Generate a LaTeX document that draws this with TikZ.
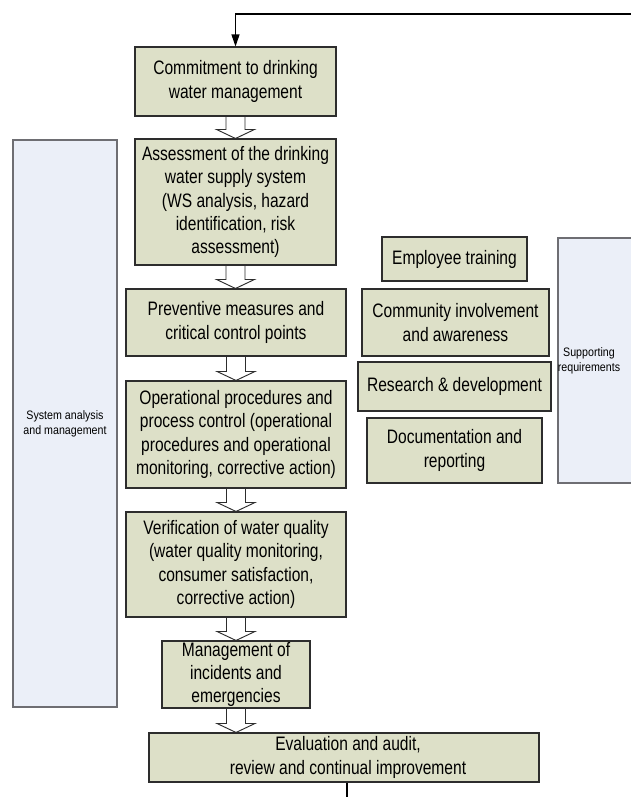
\documentclass[tikz,border=0pt]{standalone}
\usepackage{fontspec}
\setmainfont{Liberation Sans}[FakeStretch=0.8]
\newfontfamily\panelfont{Liberation Sans}[FakeStretch=0.87]
\usetikzlibrary{arrows.meta,calc,backgrounds}

\definecolor{boxfill}{RGB}{221,224,200}
\definecolor{boxline}{RGB}{45,45,45}
\definecolor{panelfill}{RGB}{235,239,248}
\definecolor{panelline}{RGB}{110,110,115}

\tikzset{
  x=0.75pt, y=-0.75pt,
  sz/.style 2 args={minimum width=#1*0.75pt, minimum height=#2*0.75pt},
  stage/.style={draw=boxline, line width=0.8pt, fill=boxfill, inner sep=0pt,
    align=center, font=\fontsize{14.6}{17.5}\selectfont},
  panel/.style={draw=panelline, line width=0.9pt, fill=panelfill, inner sep=0pt,
    align=center, font=\panelfont\fontsize{9.2}{11.3}\selectfont},
  paneltext/.style={align=center, inner sep=0pt, font=\panelfont\fontsize{9.2}{11.3}\selectfont},
  blockarrow/.style={draw=boxline, line width=0.7pt, fill=white, line join=miter},
  feedback/.style={draw=black, line width=0.8pt},
}

% hollow block arrow from the bottom of #1 down to the top of #2
\newcommand\stagearrow[2]{%
  \draw[blockarrow]
    ($(#1.south)+(-9.5,0.4)$) -- ($(#2.north -| #1.south)+(-9.5,-9)$)
    -- ($(#2.north -| #1.south)+(-19,-9)$) -- (#2.north -| #1.south)
    -- ($(#2.north -| #1.south)+(19,-9)$) -- ($(#2.north -| #1.south)+(9.5,-9)$)
    -- ($(#1.south)+(9.5,0.4)$);}

\begin{document}
\begin{tikzpicture}
\useasboundingbox (0,0) rectangle (631,797);

% side panels
\node[panel, sz={104}{567}] (sysan) at (65,423.5) {System analysis\\and management};
\node[panel, sz={100}{245}] (suppanel) at (608,360.5) {};
\node[paneltext] (suptext) at (589,361) {Supporting\\requirements};

% main sequence of stages
\node[stage, sz={201}{69}]  (commit) at (235.5,81.5) {Commitment to drinking\\water management};
\node[stage, sz={201}{126}] (assess) at (235.5,202) {Assessment of the drinking\\water supply system\\(WS analysis, hazard\\identification, risk\\assessment)};
\node[stage, sz={220}{67}]  (prevent) at (236,322.5) {Preventive measures and\\critical control points};
\node[stage, sz={220}{107}] (oper) at (236,434.5) {Operational procedures and\\process control (operational\\procedures and operational\\monitoring, corrective action)};
\node[stage, sz={220}{105}] (verif) at (236,564.5) {Verification of water quality\\(water quality monitoring,\\consumer satisfaction,\\corrective action)};
\node[stage, sz={148}{67}]  (incid) at (236,674.5) {Management of\\incidents and\\emergencies};
\node[stage, sz={390}{49}]  (evalu) at (344,757.5) {\hspace*{6pt}Evaluation and audit,\\\hspace*{6pt}review and continual improvement};

% supporting requirements
\node[stage, sz={145}{44}] (train) at (454.5,259) {Employee training};
\node[stage, sz={187}{67}] (commun) at (455.5,322.5) {Community involvement\\and awareness};
\node[stage, sz={193}{49}] (research) at (454.5,386.5) {Research \& development};
\node[stage, sz={175}{65}] (docu) at (454.5,450.5) {Documentation and\\reporting};

% block arrows between stages
\begin{scope}[on background layer]
  \stagearrow{commit}{assess}
  \stagearrow{assess}{prevent}
  \stagearrow{prevent}{oper}
  \stagearrow{oper}{verif}
  \stagearrow{verif}{incid}
  \stagearrow{incid}{evalu}
\end{scope}

% feedback loop running off the page
\coordinate (loopin) at (640,14);
\coordinate (loopout) at (347,800);
\draw[feedback, -{Triangle[length=9pt,width=6pt]}] (loopin) -| (commit.north);
\draw[feedback] (loopout |- evalu.south) -- (loopout);
\end{tikzpicture}
\end{document}
